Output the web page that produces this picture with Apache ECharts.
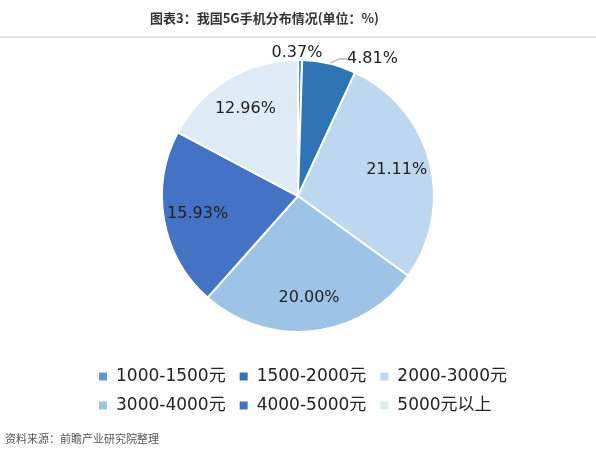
<!DOCTYPE html>
<html>
<head>
<meta charset="utf-8">
<script src="https://cdn.jsdelivr.net/npm/echarts@6/dist/echarts.min.js"></script>
<style>
  html, body { margin: 0; padding: 0; background: #fff; }
  #main { width: 596px; height: 458px; }
</style>
</head>
<body>
<div id="main"></div>
<script>
var categories = ['1000-1500元', '1500-2000元', '2000-3000元', '3000-4000元', '4000-5000元', '5000元以上']
var shares = [0.37, 4.81, 21.11, 20.00, 15.93, 12.96]
var colors = ['#5B9BD5', '#2E75B6', '#BDD7EE', '#9DC3E6', '#4472C4', '#DEEBF7']

function fmt(p) { return p.value.toFixed(2) + '%' }

function main() {
  var myChart = echarts.init(document.getElementById('main'))
  // main pie: colours + the two small outside labels
  var pieData = categories.map(function (name, i) {
    var item = { name: name, value: shares[i], itemStyle: { color: colors[i] } }
    if (i < 2) {
      item.label = { show: true }
      item.labelLine = { show: i === 1, length: 8, length2: 8, lineStyle: { color: '#999', width: 1 } }
    }
    return item
  })
  // transparent ring on top, only used to push the inside labels outward
  var ringData = categories.map(function (name, i) {
    return { name: name, value: shares[i], label: { show: i >= 2 } }
  })
  var labelFont = { fontFamily: 'DejaVu Sans', fontSize: 16, color: '#222', formatter: fmt }
  var option = {
    animation: false,
    title: {
      text: '图表3：我国5G手机分布情况(单位：%)',
      left: 145,
      top: 7,
      textStyle: { fontFamily: 'Noto Sans CJK SC', fontSize: 13, fontWeight: 'bold', color: '#333' }
    },
    graphic: [{
      type: 'line',
      shape: { x1: 0, y1: 37, x2: 596, y2: 37 },
      style: { stroke: '#e2e2e2', lineWidth: 2 }
    }, {
      type: 'text',
      left: 5,
      top: 433,
      style: { text: '资料来源：前瞻产业研究院整理', fill: '#555', font: '11px "Noto Sans CJK SC"' }
    }],
    legend: {
      left: 92,
      top: 363,
      width: 440,
      itemWidth: 10,
      itemHeight: 10,
      itemGap: 12,
      icon: 'rect',
      textStyle: { fontFamily: 'DejaVu Sans, Noto Sans CJK SC', fontSize: 17, color: '#222', padding: [0, 0, 0, 3] },
      data: categories
    },
    series: [{
      type: 'pie',
      center: [298, 196],
      radius: 136,
      startAngle: 90,
      clockwise: true,
      avoidLabelOverlap: false,
      itemStyle: { borderColor: '#fff', borderWidth: 2 },
      label: Object.assign({ show: false, position: 'outside' }, labelFont),
      labelLine: { show: false },
      labelLayout: function (params) {
        if (params.dataIndex === 0) {
          return { x: 297, y: 53, align: 'center', verticalAlign: 'middle', hideOverlap: false }
        }
        if (params.dataIndex === 1) {
          return { x: 347, y: 59, align: 'left', verticalAlign: 'middle', hideOverlap: false }
        }
        return { hideOverlap: false }
      },
      data: pieData
    }, {
      type: 'pie',
      center: [298, 196],
      radius: [62, 136],
      startAngle: 90,
      clockwise: true,
      silent: true,
      legendHoverLink: false,
      avoidLabelOverlap: false,
      itemStyle: { color: 'rgba(0,0,0,0)', borderWidth: 0 },
      label: Object.assign({ position: 'inside' }, labelFont),
      labelLine: { show: false },
      labelLayout: { hideOverlap: false },
      data: ringData
    }]
  }
  myChart.setOption(option)
}

window.onload = main
</script>
</body>
</html>
